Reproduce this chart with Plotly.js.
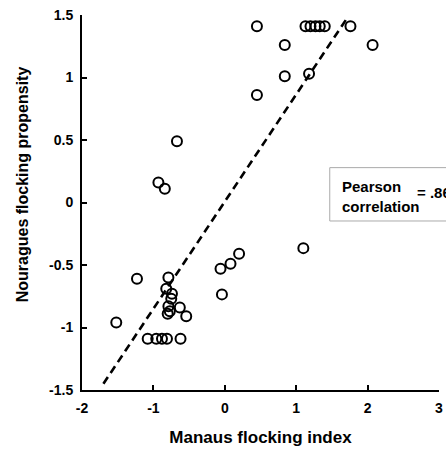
<!DOCTYPE html>
<html>
<head>
<meta charset="utf-8">
<script src="https://cdn.plot.ly/plotly-3.0.1.min.js"></script>
<style>html,body{margin:0;padding:0;background:#fff;overflow:hidden}</style>
</head>
<body>
<div id="chart" style="width:446px;height:452px"></div>
<script>
// Manaus flocking index (x) vs Nouragues flocking propensity (y)
const manausIndex = [-0.67, -0.93, -0.84, 0.45, 1.13, 1.20, 1.27, 1.33, 1.40, 1.76,
  0.84, 2.07, 0.84, 1.18, 0.45, -1.23, -1.52, -0.79, -0.82, -0.74,
  -0.75, -0.79, -0.77, -0.80, -0.63, -0.54, -1.08, -0.96, -0.88, -0.81,
  -0.62, -0.06, 0.08, 0.20, -0.04, 1.10];
const nouraguesPropensity = [0.49, 0.16, 0.11, 1.41, 1.41, 1.41, 1.41, 1.41, 1.41, 1.41,
  1.26, 1.26, 1.01, 1.03, 0.86, -0.61, -0.96, -0.60, -0.69, -0.73,
  -0.77, -0.83, -0.87, -0.89, -0.84, -0.91, -1.09, -1.09, -1.09, -1.09,
  -1.09, -0.53, -0.49, -0.41, -0.735, -0.365];
const fitLineX = [-1.70, 1.73];
const fitLineY = [-1.45, 1.49];
const xTickVals = [-2, -1, 0, 1, 2, 3];
const xTickText = ["-2", "-1", "0", "1", "2", "3"];
const yTickVals = [-1.5, -1, -0.5, 0, 0.5, 1, 1.5];
const yTickText = ["-1.5", "-1", "-0.5", "0", "0.5", "1", "1.5"];
const xTitle = "Manaus flocking index";
const yTitle = "Nouragues flocking propensity";
const correlationLabel = "Pearson<br>correlation";
const correlationValue = "= .86";

const font = "Liberation Sans, Arial, sans-serif";

const traces = [
  {
    x: fitLineX, y: fitLineY, type: "scatter", mode: "lines",
    line: {color: "#000", width: 2.6, dash: "8px,5px"},
    hoverinfo: "skip", showlegend: false
  },
  {
    x: manausIndex, y: nouraguesPropensity, type: "scatter", mode: "markers",
    marker: {symbol: "circle-open", size: 10, color: "#000", line: {width: 2, color: "#000"}},
    showlegend: false
  }
];

const axisCommon = {
  showgrid: false, zeroline: false, showline: true, linecolor: "#000", linewidth: 2,
  ticks: "inside", ticklen: 5, tickwidth: 2, tickcolor: "#000",
  tickfont: {family: font, size: 14, color: "#000", weight: "bold"},
  fixedrange: true
};

const layout = {
  width: 446, height: 452,
  margin: {l: 82, r: 7, t: 15, b: 62},
  paper_bgcolor: "#fff", plot_bgcolor: "#fff",
  font: {family: font, color: "#000"},
  xaxis: Object.assign({}, axisCommon, {
    range: [-2, 3], tickmode: "array", tickvals: xTickVals, ticktext: xTickText,
    ticklabelstandoff: 4,
    title: {text: xTitle, font: {family: font, size: 17, color: "#000", weight: "bold"}, standoff: 16}
  }),
  yaxis: Object.assign({}, axisCommon, {
    range: [-1.5, 1.5], tickmode: "array", tickvals: yTickVals, ticktext: yTickText,
    ticklabelstandoff: 4
  }),
  shapes: [{
    type: "rect", xref: "paper", yref: "paper",
    x0: 0.694, x1: 1.1, y0: 0.4507, y1: 0.593,
    line: {color: "#aaaaaa", width: 1}, fillcolor: "rgba(0,0,0,0)"
  }],
  annotations: [
    {xref: "paper", yref: "paper", x: -0.166, y: 0.548, xanchor: "center", yanchor: "middle",
     text: yTitle, textangle: -90, showarrow: false,
     font: {family: font, size: 16, color: "#000", weight: "bold"}},
    {xref: "paper", yref: "paper", x: 0.7227, y: 0.516, xanchor: "left", yanchor: "middle",
     text: correlationLabel, align: "left", showarrow: false,
     font: {family: font, size: 15, color: "#000", weight: "bold"}},
    {xref: "paper", yref: "paper", x: 0.933, y: 0.527, xanchor: "left", yanchor: "middle",
     text: correlationValue, align: "left", showarrow: false,
     font: {family: font, size: 15, color: "#000", weight: "bold"}}
  ],
  showlegend: false
};

Plotly.newPlot("chart", traces, layout, {displayModeBar: false, staticPlot: true});
</script>
</body>
</html>
